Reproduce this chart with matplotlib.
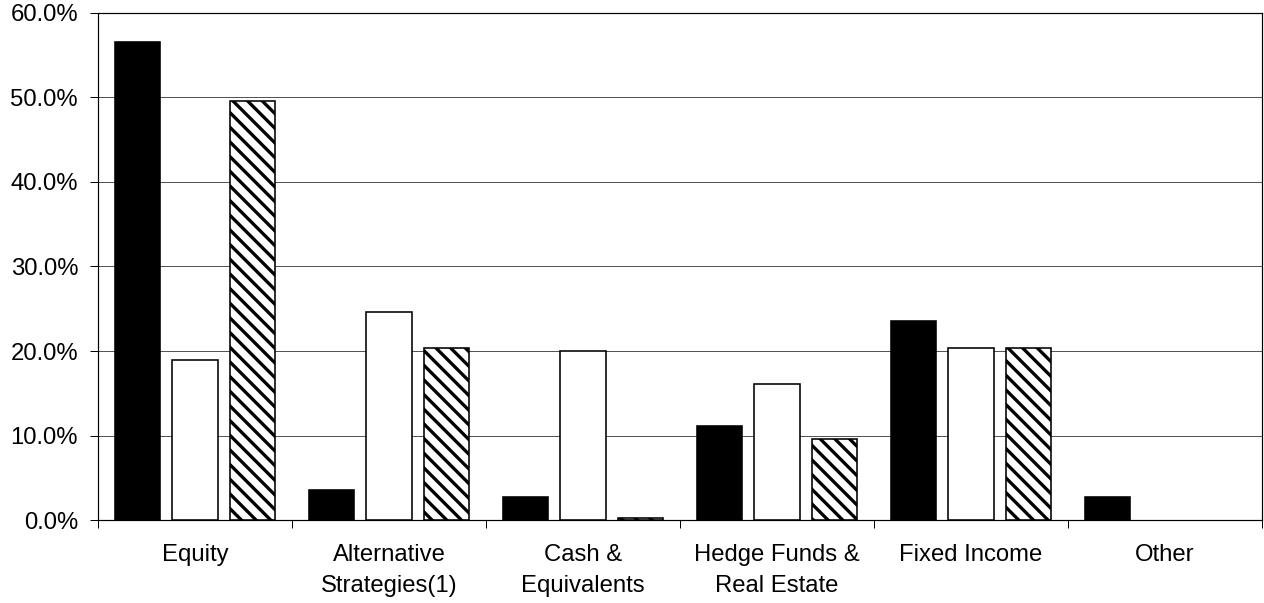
import matplotlib.pyplot as plt
import numpy as np

categories = ["Equity", "Alternative\nStrategies(1)", "Cash &\nEquivalents",
              "Hedge Funds &\nReal Estate", "Fixed Income", "Other"]
series_black = [56.5, 3.6, 2.8, 11.2, 23.5, 2.7]
series_white = [18.9, 24.6, 20.0, 16.1, 20.4, 0.0]
series_hatch = [49.5, 20.4, 0.25, 9.6, 20.4, 0.0]
yticks = [0, 10, 20, 30, 40, 50, 60]

DPI = 132
px = 72 / DPI  # one pixel in points

plt.rcParams["font.family"] = ["Liberation Sans", "DejaVu Sans"]
plt.rcParams["hatch.linewidth"] = 3.3 * px
plt.rcParams["hatch.color"] = "black"

fig = plt.figure(figsize=(1264 / DPI, 603 / DPI), dpi=DPI)
ax = fig.add_axes([98 / 1264, 1 - 520.3 / 603, (1262 - 98) / 1264, (520.3 - 12.5) / 603])

x = np.arange(len(categories))
w = 0.235
off = 0.297
lw = 1.6 * px


def widths(vals):
    # hide outlines of empty bars
    return [lw if v > 0 else 0 for v in vals]


ax.bar(x - off, series_black, w, color="black", edgecolor="black",
       linewidth=widths(series_black), zorder=3)
ax.bar(x, series_white, w, color="white", edgecolor="black",
       linewidth=widths(series_white), zorder=3)
ax.bar(x + off, series_hatch, w, color="white", edgecolor="black",
       linewidth=widths(series_hatch), hatch="\\\\\\", zorder=3)

ax.set_xlim(-0.5, len(categories) - 0.5)
ax.set_ylim(0, 60)
ax.set_yticks(yticks)
ax.set_yticklabels([f"{v:.1f}%" for v in yticks])
ax.yaxis.grid(True, color="#555555", linewidth=1 * px, zorder=0)
ax.set_axisbelow(True)

ax.set_xticks(x)
ax.set_xticklabels(categories, linespacing=1.5)
ax.set_xticks(np.arange(len(categories) + 1) - 0.5, minor=True)
ax.tick_params(axis="x", which="major", length=0, pad=13)
ax.tick_params(axis="x", which="minor", length=8 * px, width=1 * px, direction="out")
ax.tick_params(axis="y", length=8 * px, width=1 * px, direction="out", pad=6.5)
ax.tick_params(labelsize=13)

for s in ax.spines.values():
    s.set_linewidth(1.2 * px)
    s.set_color("black")

fig.savefig("out.png", dpi=DPI)
